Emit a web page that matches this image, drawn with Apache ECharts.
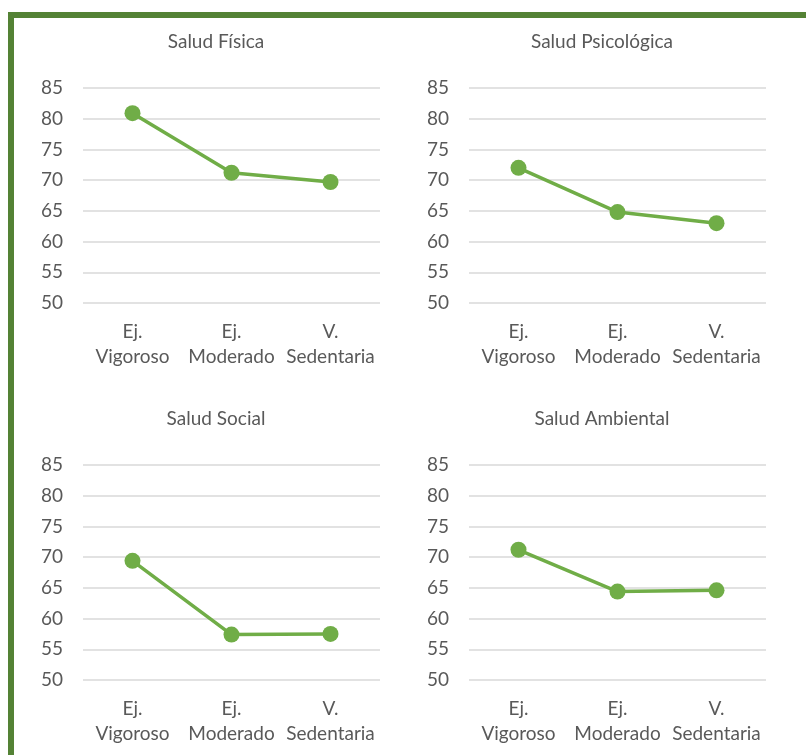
<!DOCTYPE html>
<html>
<head>
<meta charset="utf-8">
<script src="https://cdn.jsdelivr.net/npm/echarts@6/dist/echarts.min.js"></script>
<style>
html,body{margin:0;padding:0;background:#fff;}
#chart{width:806px;height:755px;}
</style>
</head>
<body>
<div id="chart"></div>
<script>
// Activity levels on the x axis
const categories = ['Ej.\nVigoroso', 'Ej.\nModerado', 'V.\nSedentaria'];
// Panel titles
const titles = ['Salud Física', 'Salud Psicológica', 'Salud Social', 'Salud Ambiental'];
// Mean score per activity level, one array per health domain
const saludFisica = [80.9, 71.2, 69.7];
const saludPsicologica = [72.0, 64.8, 63.0];
const saludSocial = [69.4, 57.4, 57.5];
const saludAmbiental = [71.2, 64.4, 64.6];
const seriesData = [saludFisica, saludPsicologica, saludSocial, saludAmbiental];
// Value axis range
const yMin = 50, yMax = 85, yStep = 5;

const FONT = 'Lato';
const TEXT = '#595959';
const GREEN = '#70AD47';

const panels = [
  { left: 83, top: 88, titleX: 216, titleY: 32 },
  { left: 469, top: 88, titleX: 602, titleY: 32 },
  { left: 83, top: 465, titleX: 216, titleY: 409 },
  { left: 469, top: 465, titleX: 602, titleY: 409 }
];

const chart = echarts.init(document.getElementById('chart'), null, { renderer: 'canvas' });

const option = {
  backgroundColor: '#ffffff',
  animation: false,
  title: panels.map((p, i) => ({
    text: titles[i],
    left: p.titleX,
    top: p.titleY,
    padding: 0,
    textAlign: 'center',
    textStyle: { fontFamily: FONT, fontSize: 19, fontWeight: 'normal', color: TEXT }
  })),
  grid: panels.map(p => ({ left: p.left, top: p.top, width: 297, height: 215 })),
  xAxis: panels.map((p, i) => ({
    type: 'category',
    gridIndex: i,
    data: categories,
    axisLine: { show: false },
    axisTick: { show: false },
    axisLabel: {
      fontFamily: FONT, fontSize: 19, color: TEXT,
      lineHeight: 25, margin: 16, interval: 0
    }
  })),
  yAxis: panels.map((p, i) => ({
    type: 'value',
    gridIndex: i,
    min: yMin, max: yMax, interval: yStep,
    axisLine: { show: false },
    axisTick: { show: false },
    axisLabel: { fontFamily: FONT, fontSize: 19, color: TEXT, margin: 20 },
    splitLine: { lineStyle: { color: '#D9D9D9', width: 1.5 } }
  })),
  series: seriesData.map((d, i) => ({
    type: 'line',
    xAxisIndex: i,
    yAxisIndex: i,
    data: d,
    symbol: 'circle',
    symbolSize: 16,
    lineStyle: { color: GREEN, width: 3.5 },
    itemStyle: { color: GREEN },
    emphasis: { disabled: true }
  })),
  graphic: [{
    type: 'rect',
    shape: { x: 11, y: 15, width: 900, height: 900 },
    style: { fill: 'none', stroke: '#548235', lineWidth: 6 },
    z: 10
  }]
};

chart.setOption(option);
</script>
</body>
</html>
